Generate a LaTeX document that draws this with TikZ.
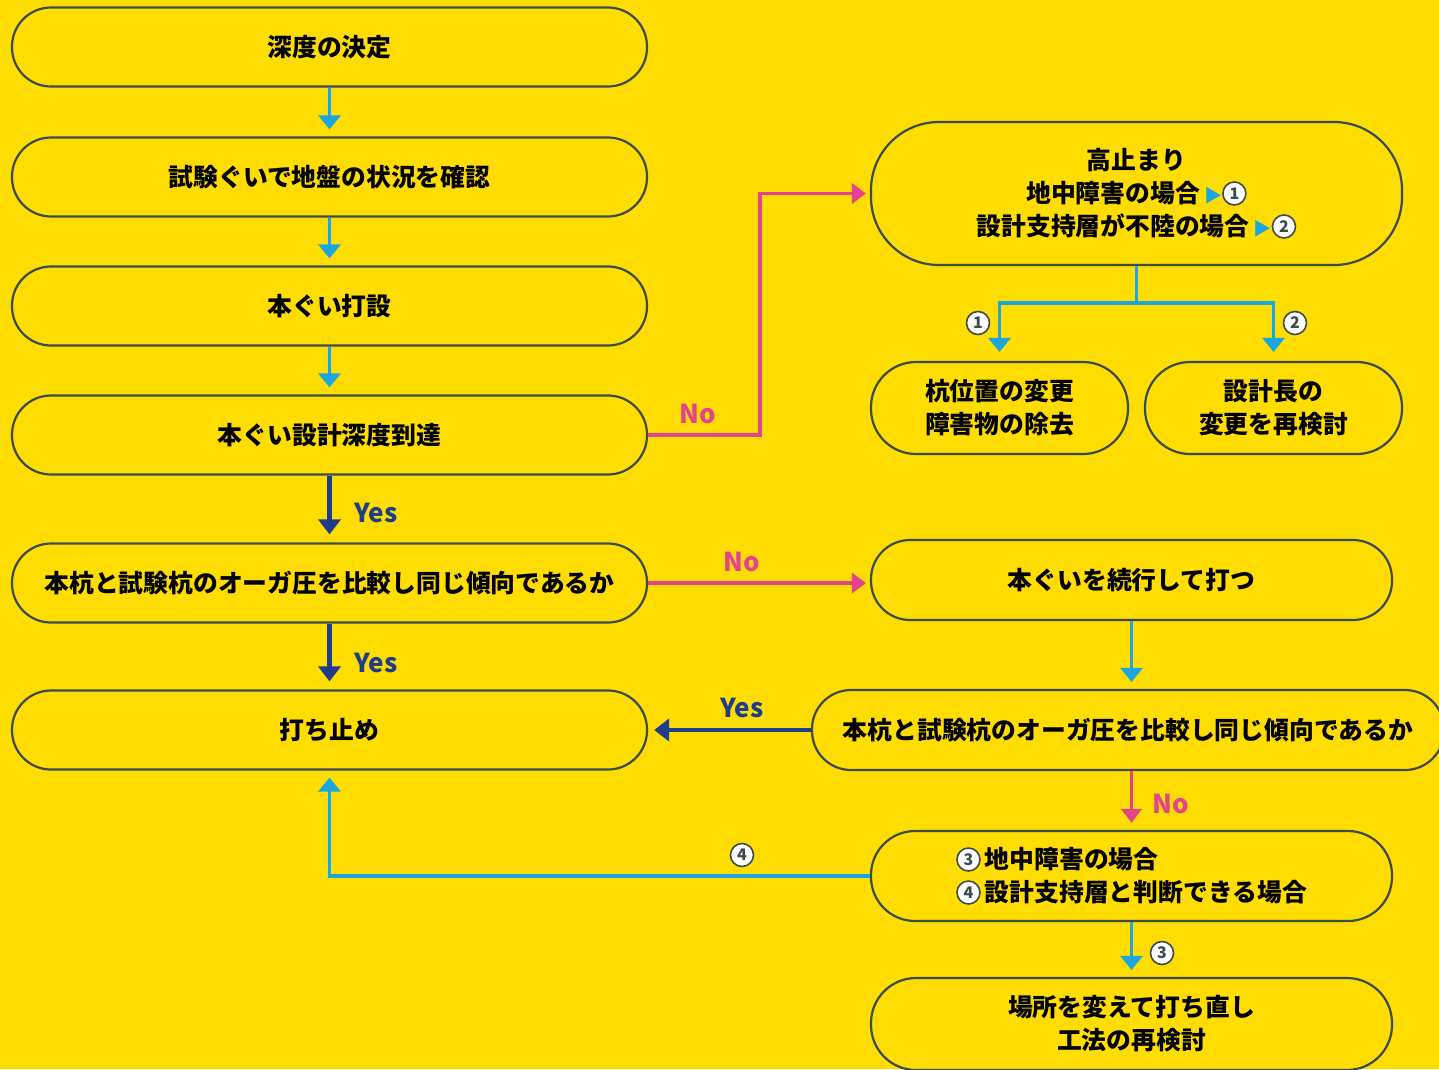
\documentclass[tikz,border=0pt]{standalone}
\usepackage{fontspec}
\setmainfont{Noto Sans CJK JP}
\usetikzlibrary{arrows.meta}
\definecolor{bgyel}{HTML}{FFDD00}
\definecolor{lblue}{HTML}{1BA6E0}
\definecolor{dblue}{HTML}{1F3C8C}
\definecolor{mypink}{HTML}{E4438F}
\definecolor{edgecol}{HTML}{3C4B50}
\newcommand\jpf{\fontsize{24.8}{33}\selectfont\bfseries}
\newcommand\cnum[1]{\tikz[baseline={([yshift=-9pt]cn.center)}]\node[circle,draw=edgecol,fill=white,line width=1.6pt,inner sep=0pt,minimum size=23pt,font=\fontsize{16}{16}\selectfont\bfseries,text=edgecol](cn){#1};}
\newcommand\tri{{\color{lblue}\fontsize{18}{18}\selectfont ▶}}
\tikzset{
  box/.style={draw=edgecol, line width=2.2pt, fill=bgyel, rectangle, align=center, font=\jpf, text=black, inner sep=0pt},
  lbline/.style={draw=lblue, line width=3.6pt},
  lbarrow/.style={lbline, -{Triangle[width=22pt,length=14pt]}},
  dbarrow/.style={draw=dblue, line width=4.5pt, -{Triangle[width=22pt,length=15pt]}},
  pkline/.style={draw=mypink, line width=3.4pt},
  pkarrow/.style={pkline, -{Triangle[width=20pt,length=14pt]}},
  yeslab/.style={text=dblue, font=\fontsize{26}{26}\selectfont\bfseries},
  nolab/.style={text=mypink, font=\fontsize{26}{26}\selectfont\bfseries},
  cnlab/.style={circle,draw=edgecol,fill=white,line width=1.6pt,inner sep=0pt,minimum size=23pt,font=\fontsize{16}{16}\selectfont\bfseries,text=edgecol}
}
\begin{document}
\begin{tikzpicture}[x=1pt,y=-1pt]
\clip (0,0) rectangle (1439,1069);
\fill[bgyel] (0,0) rectangle (1439,1069);
% left column
\node[box, minimum width=635pt, minimum height=79pt, rounded corners=39pt] (n1) at (329.5,47) {深度の決定};
\node[box, minimum width=635pt, minimum height=79pt, rounded corners=39pt] (n2) at (329.5,177) {試験ぐいで地盤の状況を確認};
\node[box, minimum width=635pt, minimum height=79pt, rounded corners=39pt] (n3) at (329.5,306) {本ぐい打設};
\node[box, minimum width=635pt, minimum height=79pt, rounded corners=39pt] (n4) at (329.5,435) {本ぐい設計深度到達};
\node[box, minimum width=635pt, minimum height=79pt, rounded corners=39pt] (n5) at (329.5,583) {本杭と試験杭のオーガ圧を比較し同じ傾向であるか};
\node[box, minimum width=635pt, minimum height=79pt, rounded corners=39pt] (n6) at (329.5,730) {打ち止め};
% right column
\node[box, minimum width=531pt, minimum height=143pt, rounded corners=68pt] (r1) at (1136.5,193.5) {高止まり\\地中障害の場合\,\tri\cnum{1}\\設計支持層が不陸の場合\,\tri\cnum{2}};
\node[box, minimum width=257pt, minimum height=92pt, rounded corners=45pt] (r2) at (999.5,408) {杭位置の変更\\障害物の除去};
\node[box, minimum width=257pt, minimum height=92pt, rounded corners=45pt] (r3) at (1273.5,408) {設計長の\\変更を再検討};
\node[box, minimum width=521pt, minimum height=80pt, rounded corners=39pt] (r4) at (1131.5,580) {本ぐいを続行して打つ};
\node[box, minimum width=632pt, minimum height=80pt, rounded corners=39pt] (r5) at (1128,730) {本杭と試験杭のオーガ圧を比較し同じ傾向であるか};
\node[box, minimum width=521pt, minimum height=90pt, rounded corners=44pt, align=left] (r6) at (1131.5,876) {\cnum{3}\,地中障害の場合\\\cnum{4}\,設計支持層と判断できる場合};
\node[box, minimum width=521pt, minimum height=92pt, rounded corners=45pt] (r7) at (1131.5,1024) {場所を変えて打ち直し\\工法の再検討};
% left arrows
\draw[lbarrow, shorten >=7pt] (n1.south) -- (n2.north);
\draw[lbarrow, shorten >=7pt] (n2.south) -- (n3.north);
\draw[lbarrow, shorten >=7pt] (n3.south) -- (n4.north);
\draw[dbarrow, shorten >=8pt] (n4.south) -- (n5.north);
\draw[dbarrow, shorten >=8pt] (n5.south) -- (n6.north);
\node[yeslab] (y1) at (376,513) {Yes};
\node[yeslab] (y2) at (376,663) {Yes};
% No to r1
\coordinate (k1) at (760,0);
\draw[pkarrow, shorten >=4pt] (n4.east) -- (n4.east -| k1) |- (r1.west);
\node[nolab] (no1) at (698,414) {No};
% No to r4
\draw[pkarrow, shorten >=4pt] (n5.east) -- (r4.west |- n5.east);
\node[nolab] (no2) at (742,562) {No};
% r1 branch
\coordinate (br) at (1136.5,303);
\draw[lbline] (r1.south) -- (br);
\draw[lbarrow, shorten >=9pt] (br) -| (r2.north);
\draw[lbarrow, shorten >=9pt] (br) -| (r3.north);
\node[cnlab] (c1) at (978,323) {1};
\node[cnlab] (c2) at (1295,323) {2};
% r4 to r5
\draw[lbarrow, shorten >=7pt] (r4.south) -- (r5.north -| r4.south);
% Yes to n6
\draw[dbarrow, shorten >=6pt] (r5.west) -- (n6.east);
\node[yeslab] (y3) at (742,708) {Yes};
% No to r6
\draw[pkarrow, shorten >=7pt] (r5.south -| r6.north) -- (r6.north);
\node[nolab] (no3) at (1171,804) {No};
% r6 to n6
\draw[lbarrow, shorten >=7pt] (r6.west) -| (n6.south);
\node[cnlab] (c4) at (742,855) {4};
% r6 to r7
\draw[lbarrow, shorten >=7pt] (r6.south) -- (r7.north);
\node[cnlab] (c3) at (1162,953) {3};
\end{tikzpicture}
\end{document}
